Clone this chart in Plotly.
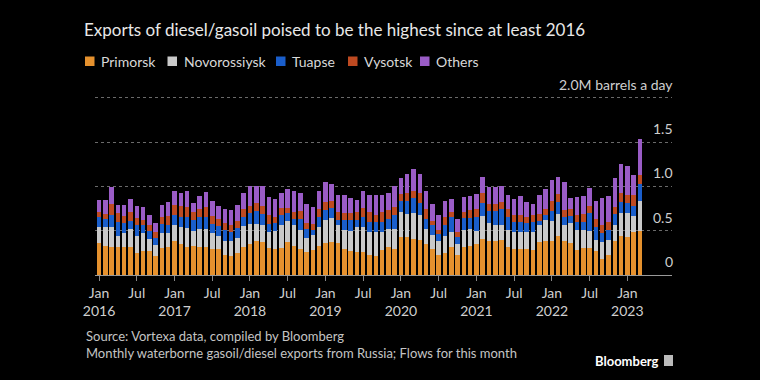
import plotly.graph_objects as go

# Monthly index Jan 2016 .. Mar 2023 (87 months)
months = [f"{y}-{m:02d}" for y in range(2016, 2024) for m in range(1, 13)][:87]

primorsk = [.36,.33,.32,.32,.32,.32,.25,.27,.27,.21,.31,.32,
            .38,.35,.32,.33,.32,.32,.29,.29,.23,.22,.25,.32,
            .35,.38,.37,.31,.29,.31,.37,.33,.29,.26,.28,.33,
            .36,.37,.36,.29,.27,.26,.26,.23,.21,.28,.32,.29,
            .43,.43,.41,.40,.35,.29,.23,.25,.32,.23,.32,.33,
            .35,.41,.38,.38,.40,.32,.29,.29,.29,.28,.37,.38,
            .38,.44,.38,.36,.28,.30,.31,.27,.18,.23,.38,.44,
            .43,.49,.50]
novorossiysk = [.18,.21,.22,.12,.15,.20,.19,.20,.14,.13,.16,.15,
                .19,.19,.21,.17,.20,.20,.18,.15,.15,.16,.17,.23,
                .23,.20,.20,.18,.21,.26,.24,.23,.22,.16,.17,.21,
                .26,.27,.21,.22,.23,.28,.28,.25,.28,.21,.20,.23,
                .28,.26,.29,.28,.17,.16,.15,.19,.17,.12,.19,.19,
                .15,.26,.21,.19,.17,.19,.20,.19,.19,.20,.19,.24,
                .23,.25,.19,.23,.23,.21,.19,.13,.19,.17,.19,.26,
                .27,.18,.34]
tuapse = [.11,.09,.14,.16,.12,.09,.12,.09,.09,.08,.11,.10,
          .11,.11,.13,.12,.13,.13,.11,.11,.13,.10,.11,.10,
          .12,.14,.12,.09,.09,.11,.09,.07,.12,.10,.06,.11,
          .11,.12,.05,.11,.12,.08,.11,.12,.11,.11,.11,.16,
          .12,.14,.17,.13,.11,.11,.08,.13,.16,.08,.13,.12,
          .15,.14,.13,.15,.17,.14,.11,.12,.11,.12,.05,.06,
          .11,.13,.08,.08,.09,.09,.20,.14,.10,.11,.12,.12,
          .11,.11,.19]
vysotsk = [.06,.06,.12,.10,.08,.10,.08,.06,.06,.07,.07,.10,
           .11,.13,.11,.09,.09,.12,.09,.08,.08,.08,.08,.10,
           .08,.09,.09,.10,.06,.08,.06,.08,.09,.07,.07,.10,
           .09,.08,.09,.08,.08,.09,.11,.11,.08,.11,.10,.09,
           .08,.10,.08,.11,.11,.05,.05,.08,.06,.05,.07,.09,
           .09,.12,.08,.08,.08,.09,.08,.08,.06,.08,.08,.07,
           .11,.09,.08,.08,.08,.09,.08,.09,.09,.09,.08,.10,
           .09,.12,.10]
others = [.14,.16,.19,.09,.12,.15,.14,.15,.12,.10,.14,.15,
          .16,.15,.18,.10,.15,.17,.16,.15,.15,.17,.18,.17,
          .23,.20,.23,.20,.21,.16,.21,.24,.21,.21,.19,.20,
          .23,.19,.19,.20,.17,.14,.19,.19,.22,.19,.20,.24,
          .19,.21,.25,.22,.21,.19,.17,.19,.15,.15,.17,.16,
          .17,.18,.19,.19,.19,.16,.18,.21,.17,.12,.21,.22,
          .24,.20,.32,.12,.20,.20,.20,.21,.31,.29,.33,.33,
          .33,.23,.40]

series_names = ["Primorsk", "Novorossiysk", "Tuapse", "Vysotsk", "Others"]
series_values = [primorsk, novorossiysk, tuapse, vysotsk, others]
series_colors = ["#e5912e", "#c9c9c9", "#1a5ecb", "#be4a21", "#9a5cc6"]
legend_x = [85, 167.5, 276, 348, 420]   # legend square left edges (px)

tick_vals = list(range(0, 87, 6))
tick_text = []
for i in tick_vals:
    y, m = months[i].split("-")
    tick_text.append(f"Jan<br>{y}" if m == "01" else "Jul")

y_vals = [0, 0.5, 1.0, 1.5, 2.0]
y_text = ["0", "0.5", "1.0", "1.5", "2.0M barrels a day"]

FONT = "Lato, sans-serif"
x_idx = list(range(len(months)))

L, R, T, B = 95, 88, 70, 105
PW, PH = 760 - L - R, 380 - T - B
Y_TOP = (380 - B - T) / 88.6

def px(x):
    return (x - L) / PW

def py(y):
    return (380 - B - y) / PH

fig = go.Figure()
for name, vals, col in zip(series_names, series_values, series_colors):
    fig.add_trace(go.Bar(x=x_idx, y=vals, name=name, marker_color=col,
                         marker_line_width=0, showlegend=False))

fig.update_layout(
    barmode="stack", bargap=0.28,
    width=760, height=380,
    paper_bgcolor="#000000", plot_bgcolor="#000000",
    margin=dict(l=L, r=R, t=T, b=B),
    font=dict(family=FONT, color="#d0d0d0", size=13),
    title=dict(text="Exports of diesel/gasoil poised to be the highest since at least 2016",
               x=84/760, xref="container", xanchor="left",
               y=1-30/380, yref="container", yanchor="middle",
               font=dict(size=17, color="#e8e8e8", family=FONT)),
    showlegend=False,
)
fig.update_xaxes(range=[-0.64, 91.1], tickvals=tick_vals, ticktext=tick_text,
                 ticks="outside", ticklen=5, tickcolor="#888", showgrid=False,
                 showline=True, linecolor="#999", linewidth=1,
                 tickfont=dict(size=14, color="#cfcfcf"))
fig.update_yaxes(range=[0, Y_TOP], tickvals=y_vals, showticklabels=False,
                 side="right",
                 showgrid=True, gridcolor="#6a6a6a", griddash="dot", gridwidth=1,
                 zeroline=False, showline=False)

# y tick labels placed above their gridlines, right-aligned
for v, t in zip(y_vals, y_text):
    fig.add_annotation(text=t, xref="paper", yref="y", x=1.0, y=v,
                       xanchor="right", yanchor="bottom", yshift=3, xshift=3,
                       showarrow=False,
                       font=dict(size=14, color="#cfcfcf", family=FONT))

# legend drawn as squares + labels
for name, col, lx in zip(series_names, series_colors, legend_x):
    fig.add_shape(type="rect", xref="paper", yref="paper",
                  x0=px(lx), x1=px(lx + 9.5), y0=py(66), y1=py(56.5),
                  fillcolor=col, line_width=0)
    fig.add_annotation(text=name, xref="paper", yref="paper",
                       x=px(lx + 14), y=py(61.5), xanchor="left", yanchor="middle",
                       showarrow=False,
                       font=dict(size=14, color="#d8d8d8", family=FONT))

fig.add_annotation(text="Source: Vortexa data, compiled by Bloomberg<br>Monthly waterborne gasoil/diesel exports from Russia; Flows for this month",
                   xref="paper", yref="paper", x=px(84), y=py(326),
                   xanchor="left", yanchor="top", align="left", showarrow=False,
                   font=dict(size=13, color="#c4c4c4", family=FONT))
fig.add_annotation(text="<b>Bloomberg</b>", xref="paper", yref="paper",
                   x=px(661), y=py(361), xanchor="right", yanchor="middle",
                   showarrow=False, font=dict(size=13, color="#ffffff", family=FONT))
fig.add_shape(type="rect", xref="paper", yref="paper",
              x0=px(664), x1=px(673), y0=py(366), y1=py(355),
              fillcolor="#bbbbbb", line_width=0)

fig.write_html("out.html", config={"displayModeBar": False},
               post_script="document.body.style.margin='0';document.body.style.background='#000';")
